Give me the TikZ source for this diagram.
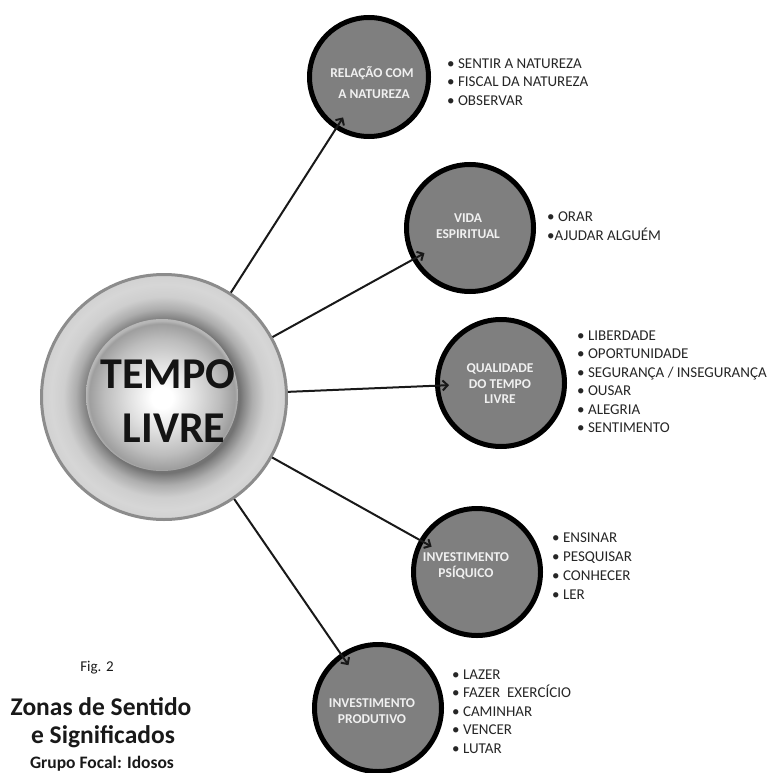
\documentclass[tikz,border=0pt]{standalone}
\usepackage{fontspec}
\setmainfont{Carlito}
\usetikzlibrary{arrows.meta}
\definecolor{satfill}{HTML}{7F7F7F}
\definecolor{sattext}{HTML}{F0F0F0}
\definecolor{listtext}{HTML}{262626}
\definecolor{ringedge}{HTML}{8C8C8C}
\pgfdeclareradialshading{ringshade}{\pgfpoint{0bp}{0bp}}{color(0bp)=(black!55); color(15.5bp)=(black!55); color(16.3bp)=(black!47); color(18bp)=(black!32); color(20.5bp)=(black!19); color(23bp)=(black!16); color(25bp)=(black!18); color(50bp)=(black!18)}
\pgfdeclareradialshading{sphereshade}{\pgfpoint{0bp}{-1bp}}{color(0bp)=(white); color(3.5bp)=(white); color(11bp)=(black!12); color(19bp)=(black!26); color(24bp)=(black!38); color(25bp)=(black!28); color(50bp)=(black!28)}
\tikzset{
  sat/.style={circle, draw=black, line width=5pt, fill=satfill, inner sep=0pt},
  satlabel/.style={text=sattext, font=\bfseries\fontsize{13.5}{15.5}\selectfont, align=center, inner sep=0pt},
  itemlist/.style={text=listtext, font=\fontsize{15}{18.5}\selectfont, align=left, inner sep=0pt, anchor=north west},
  link/.style={draw=black!90, line width=2pt, -{Straight Barb[length=5pt,width=10pt]}, shorten >=-14pt},
  caption/.style={inner sep=0pt, anchor=base, text=black!90}
}
\begin{document}
\begin{tikzpicture}[x=1pt,y=-1pt]
\useasboundingbox (0,0) rectangle (767,773);
% central element
\node[circle, minimum size=245pt, draw=ringedge, line width=3pt, shade, shading=ringshade, inner sep=0pt] (core) at (164,397) {};
\node[circle, minimum size=152pt, shade, shading=sphereshade, inner sep=0pt] (ball) at (162,395) {};
\node[inner sep=0pt, align=center, text=black!92, font=\bfseries\fontsize{44}{54}\selectfont] (title) at (168,401) {TEMPO\\\hspace*{12pt}LIVRE};
% satellites
\node[sat, minimum size=119pt] (s1) at (369,77) {};
\node[sat, minimum size=127pt] (s2) at (470,228) {};
\node[sat, minimum size=127pt] (s3) at (501,383) {};
\node[sat, minimum size=127pt] (s4) at (477,572) {};
\node[sat, minimum size=127pt] (s5) at (378,708) {};
\node[satlabel, font=\bfseries\fontsize{13.5}{21}\selectfont] (t1) at (372,83) {RELAÇÃO COM\\\hspace*{4pt}A NATUREZA};
\node[satlabel, font=\bfseries\fontsize{13.5}{16}\selectfont] (t2) at (468,226) {VIDA\\ESPIRITUAL};
\node[satlabel] (t3) at (500,384) {QUALIDADE\\DO TEMPO\\LIVRE};
\node[satlabel] (t4) at (466,566) {INVESTIMENTO\\PSÍQUICO};
\node[satlabel] (t5) at (372,711) {INVESTIMENTO\\PRODUTIVO};
% connectors
\draw[link] (core) -- (s1);
\draw[link] (core) -- (s2);
\draw[link] (core) -- (s3);
\draw[link] (core) -- (s4);
\draw[link] (core) -- (s5);
% lists
\node[itemlist] (l1) at (447,58.5) {• SENTIR A NATUREZA\\• FISCAL DA NATUREZA\\• OBSERVAR};
\node[itemlist, font=\fontsize{15}{19}\selectfont] (l2) at (547,212) {• ORAR\\•AJUDAR ALGUÉM};
\node[itemlist] (l3) at (577,330.5) {• LIBERDADE\\• OPORTUNIDADE\\• SEGURANÇA / INSEGURANÇA\\• OUSAR\\• ALEGRIA\\• SENTIMENTO};
\node[itemlist, font=\fontsize{15}{19}\selectfont] (l4) at (552,533) {• ENSINAR\\• PESQUISAR\\• CONHECER\\• LER};
\node[itemlist] (l5) at (452,669.5) {• LAZER\\• FAZER~~EXERCÍCIO\\• CAMINHAR\\• VENCER\\• LUTAR};
% caption
\node[caption, font=\fontsize{15}{18}\selectfont] (fig) at (97,671) {Fig. 2};
\node[caption, font=\bfseries\fontsize{25.5}{30}\selectfont] (cap1) at (101,715) {Zonas de Sentido};
\node[caption, font=\bfseries\fontsize{25.5}{30}\selectfont] (cap2) at (103,743) {e Significados};
\node[caption, font=\bfseries\fontsize{17.5}{22}\selectfont] (cap3) at (102,768) {Grupo Focal: Idosos};
\end{tikzpicture}
\end{document}
